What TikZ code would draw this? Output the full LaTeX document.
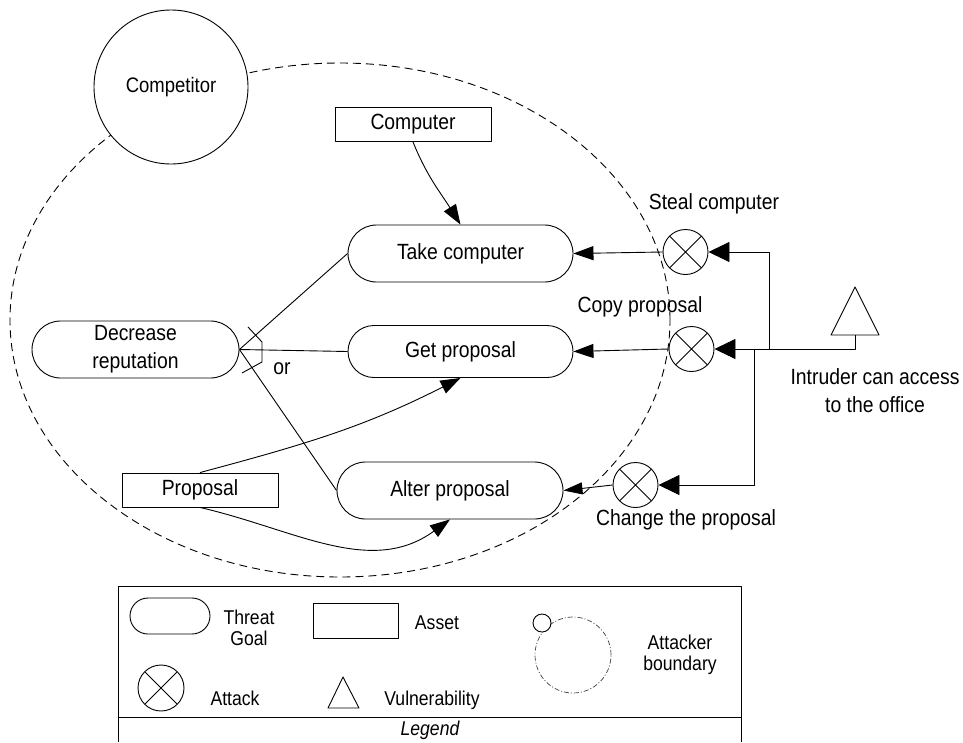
\documentclass[tikz,border=0pt]{standalone}
\usepackage{fontspec}
\setmainfont{Liberation Sans}[FakeStretch=0.88]
\usetikzlibrary{shapes.misc, arrows.meta}

\begin{document}
\begin{tikzpicture}[x=1pt, y=-1pt, line join=round, line width=0.9pt,
	font=\fontsize{22}{28}\selectfont,
	>={Triangle[length=20pt, width=14pt]},
	goal/.style={draw, rounded rectangle, minimum width=225pt, minimum height=57pt, inner sep=0pt, align=center},
	asset/.style={draw, rectangle, minimum width=156pt, minimum height=34pt, inner sep=0pt},
	attack/.style={draw, circle, fill=white, minimum size=45pt, inner sep=0pt,
		path picture={\draw (path picture bounding box.center) ++(45:22.5pt) -- ++(225:45pt)
			(path picture bounding box.center) ++(135:22.5pt) -- ++(-45:45pt);}},
	big/.style={-{Triangle[length=21pt, width=20pt]}},
	legtext/.style={font=\fontsize{20}{21}\selectfont, align=center, inner sep=0pt}]
	\useasboundingbox (0,0) rectangle (963,742);
	
	% Attacker boundary
	\draw[dash pattern=on 8pt off 5pt] (340,320) ellipse [x radius=330pt, y radius=257pt];
	\node[draw, circle, fill=white, minimum size=154pt, font=\fontsize{21}{24}\selectfont] (compt) at (171,87) {Competitor};
	
	% Threat goals and assets
	\node[goal, minimum width=207pt] (dec) at (135.5,349.5) {Decrease\\reputation};
	\node[goal] (take) at (460.5,253.5) {Take computer};
	\node[goal, minimum height=52pt] (get) at (460.5,351.5) {Get proposal};
	\node[goal, minimum width=226pt] (alter) at (450,490.5) {Alter proposal};
	\node[asset] (comp) at (413,124.5) {Computer};
	\node[asset] (prop) at (200,490) {Proposal};
	
	% Or decomposition
	\draw (dec.east) -- (take.west);
	\draw (dec.east) -- (get.west);
	\draw (dec.east) -- (alter.west);
	\draw (248,327) -- (262,342) -- (262,362) -- (242,373);
	\node (lor) at (282,369) {or};
	
	% Assets to goals
	\draw[->] (comp.south) to[out=-68, in=122] (take.north);
	\draw[->] (prop.north) to[out=15, in=-153] (get.south);
	\draw[->] (prop.south) to[out=-13, in=-144] (alter.south);
	
	% Attacks
	\node[attack] (steal) at (685.5,252) {};
	\node[attack] (copy) at (691.5,349) {};
	\node[attack] (change) at (635.5,485) {};
	\node (lsteal) at (714,204) {Steal computer};
	\node (lcopy) at (640,307) {Copy proposal};
	\node (lchange) at (686,520) {Change the proposal};
	\draw[->] (steal.west) -- (take.east);
	\draw[->] (copy.west) -- (get.east);
	\draw[->, >={Triangle[length=19pt, width=12pt]}] (change.west) -- (alter.east);
	
	% Vulnerability
	\draw (831,335) -- (855,287) -- (879,335) -- cycle;
	\coordinate (vb) at (855,335);
	\coordinate (j1) at (769,349);
	\coordinate (j2) at (754,349);
	\node[align=center] (lintr) at (875,391) {Intruder can access\\to the office};
	\draw[big] (vb) |- (copy.east);
	\draw[big] (j1) |- (steal.east);
	\draw[big] (j2) |- (change.east);
	
	% Legend
	\draw (118,742) -- (118,586) -- (741,586) -- (741,742);
	\draw (118,717) -- (741,717);
	\node[legtext, font=\itshape\fontsize{20}{21}\selectfont] (lleg) at (430,730) {Legend};
	\node[goal, minimum width=80pt, minimum height=36pt] (lgoal) at (170,616) {};
	\node[legtext] (lgoalt) at (249,628) {Threat\\Goal};
	\node[asset, minimum width=85pt, minimum height=35pt] (lasset) at (355.5,620.5) {};
	\node[legtext] (lassett) at (437,623) {Asset};
	\node[attack, minimum size=46pt] (latt) at (161,688) {};
	\node[legtext] (lattt) at (235,698) {Attack};
	\draw (328,708) -- (343,677) -- (359,708) -- cycle;
	\node[legtext] (lvuln) at (432,700) {Vulnerability};
	\draw[dash pattern=on 5pt off 2pt on 1pt off 2pt, line width=0.7pt, black!75] (573,655) circle (38pt);
	\node[draw, circle, fill=white, minimum size=18pt, inner sep=0pt] (lsmall) at (542,623) {};
	\node[legtext] (lbound) at (680,654.5) {Attacker\\boundary};
\end{tikzpicture}
\end{document}
